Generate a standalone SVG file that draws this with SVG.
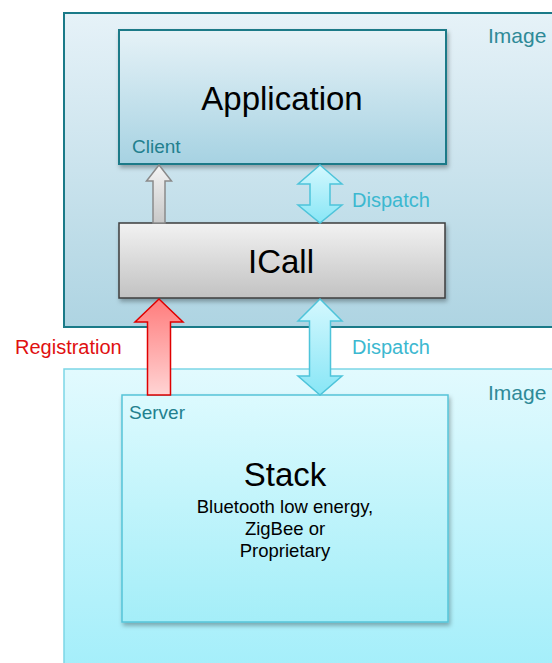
<svg xmlns="http://www.w3.org/2000/svg" width="552" height="663" viewBox="0 0 552 663">
<style>
text{font-family:"Liberation Sans",Arial,sans-serif}
.img{font-size:21px;fill:#2e8a98}
.role{font-size:19px;fill:#22808e}
.big{font-size:33px;fill:#000;text-anchor:middle}
.sub{font-size:18.5px;fill:#000;text-anchor:middle}
.disp{font-size:20px;fill:#3cb8d0}
.reg{font-size:20px;fill:#e01010}
</style>
<defs>
<linearGradient id="gTop" x1="0" y1="0" x2="0" y2="1"><stop offset="0" stop-color="#e6f2f8"/><stop offset="1" stop-color="#aed4e2"/></linearGradient>
<linearGradient id="gBot" x1="0" y1="0" x2="0" y2="1"><stop offset="0" stop-color="#e2fafe"/><stop offset="1" stop-color="#a2eefa"/></linearGradient>
<linearGradient id="gApp" x1="0" y1="0" x2="0" y2="1"><stop offset="0" stop-color="#e6f2f7"/><stop offset="1" stop-color="#a6d2e2"/></linearGradient>
<linearGradient id="gStack" x1="0" y1="0" x2="0" y2="1"><stop offset="0" stop-color="#dcfafe"/><stop offset="1" stop-color="#a4eef8"/></linearGradient>
<linearGradient id="gICall" x1="0" y1="0" x2="0" y2="1"><stop offset="0" stop-color="#f2f2f2"/><stop offset="1" stop-color="#c2c2c2"/></linearGradient>
<linearGradient id="gGrey" x1="0" y1="0" x2="0" y2="1"><stop offset="0" stop-color="#f4f4f4"/><stop offset="1" stop-color="#c8c8c8"/></linearGradient>
<linearGradient id="gRed" x1="0" y1="0" x2="0" y2="1"><stop offset="0" stop-color="#ff7c7c"/><stop offset="1" stop-color="#ffd4d4"/></linearGradient>
<linearGradient id="gCyan" x1="0" y1="0" x2="0" y2="1"><stop offset="0" stop-color="#d4f8fe"/><stop offset="1" stop-color="#88e6f6"/></linearGradient>
<filter id="sh" x="-10%" y="-10%" width="125%" height="130%"><feDropShadow dx="1.5" dy="3" stdDeviation="2" flood-color="#000" flood-opacity="0.3"/></filter>
</defs>

<g id="image-top">
<rect x="64" y="13" width="500" height="314" fill="url(#gTop)" stroke="#1a7a88" stroke-width="2"/>
<text class="img" x="488" y="43">Image</text>
</g>

<g id="image-bottom">
<rect x="64" y="369" width="500" height="310" fill="url(#gBot)" stroke="#7cd6e6" stroke-width="1.5"/>
<text class="img" x="488" y="400">Image</text>
</g>

<g id="application">
<rect x="119" y="30" width="327" height="134" fill="url(#gApp)" stroke="#1a7a88" stroke-width="2" filter="url(#sh)"/>
<text class="big" x="282" y="110">Application</text>
<text class="role" x="132" y="153">Client</text>
</g>

<g id="icall">
<rect x="119" y="223" width="326" height="75" fill="url(#gICall)" stroke="#3c3c3c" stroke-width="1.5" filter="url(#sh)"/>
<text class="big" x="281" y="273">ICall</text>
</g>

<g id="stack">
<rect x="122" y="395" width="326" height="227" fill="url(#gStack)" stroke="#56c4d8" stroke-width="1.5" filter="url(#sh)"/>
<text class="role" x="129" y="419">Server</text>
<text class="big" x="285" y="486">Stack</text>
<text class="sub" x="285" y="513">Bluetooth low energy,</text>
<text class="sub" x="285" y="535">ZigBee or</text>
<text class="sub" x="285" y="557">Proprietary</text>
</g>

<g id="connectors">
<polygon points="159,165 171.5,181 165,181 165,223 153,223 153,181 146.5,181" fill="url(#gGrey)" stroke="#8a8a8a" stroke-width="1.5"/>
<polygon points="320,165 342,184 330,184 330,205 342,205 320,223 298,205 310,205 310,184 298,184" fill="url(#gCyan)" stroke="#4ec4da" stroke-width="1.5"/>
<text class="disp" x="352" y="207">Dispatch</text>
<polygon points="159,299 183,322 170.5,322 170.5,395 147.5,395 147.5,322 135,322" fill="url(#gRed)" stroke="#e00000" stroke-width="1.5"/>
<text class="reg" x="15" y="354">Registration</text>
<polygon points="320,299 342,321 330.5,321 330.5,376 342,376 320,395 298,376 309.5,376 309.5,321 298,321" fill="url(#gCyan)" stroke="#4ec4da" stroke-width="1.5"/>
<text class="disp" x="352" y="354">Dispatch</text>
</g>
</svg>
